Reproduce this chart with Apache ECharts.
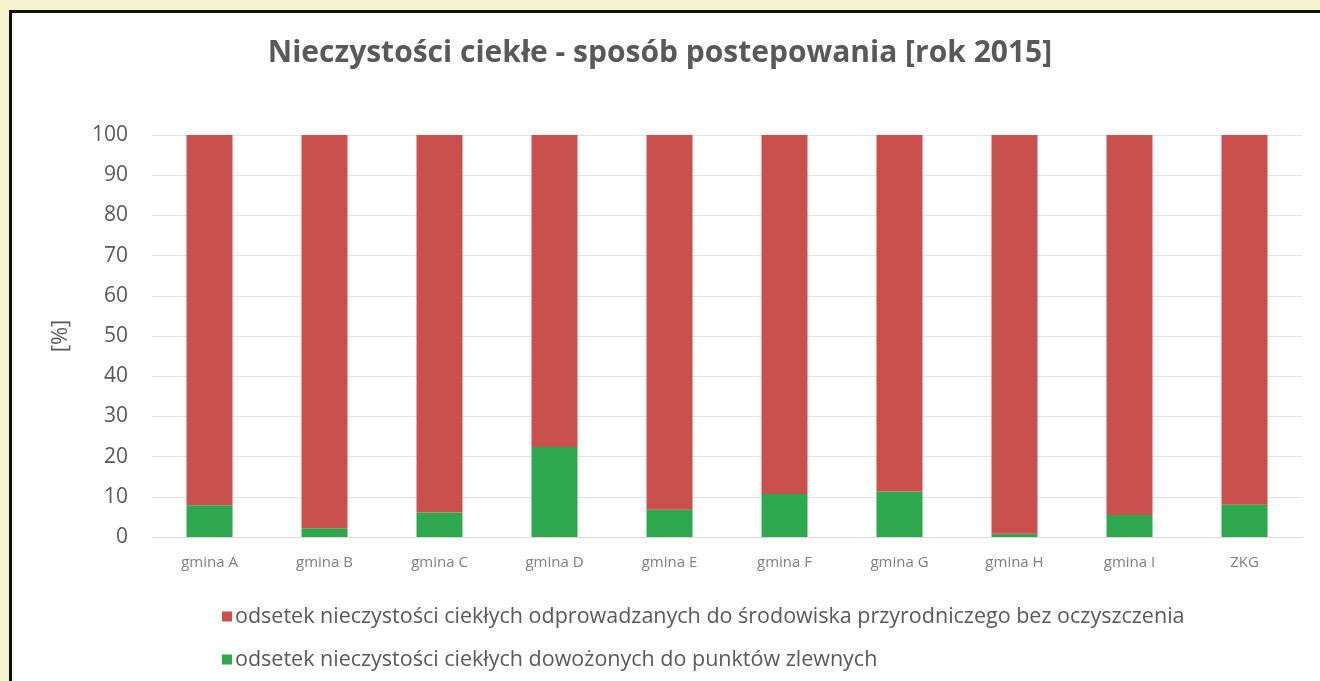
<!DOCTYPE html>
<html>
<head>
<meta charset="utf-8">
<script src="https://cdn.jsdelivr.net/npm/echarts@6/dist/echarts.min.js"></script>
<style>
html,body{margin:0;padding:0;background:#F6F4CF;width:1320px;height:681px;overflow:hidden;}
#box{position:absolute;left:9px;top:10px;width:1320px;height:700px;background:#fff;border-left:3px solid #111;border-top:3px solid #111;}
#chart{position:absolute;left:0;top:0;width:1320px;height:681px;}
</style>
</head>
<body>
<div id="box"></div>
<div id="chart"></div>
<script>
const categories = ['gmina A','gmina B','gmina C','gmina D','gmina E','gmina F','gmina G','gmina H','gmina I','ZKG'];
const dowozone = [7.9, 2.2, 6.1, 22.4, 6.8, 10.7, 11.3, 0.8, 5.5, 8.0];
const odprowadzane = [92.1, 97.8, 93.9, 77.6, 93.2, 89.3, 88.7, 99.2, 94.5, 92.0];
const yTicks = [0,10,20,30,40,50,60,70,80,90,100];
const nameRed = 'odsetek nieczystości ciekłych odprowadzanych do środowiska przyrodniczego bez oczyszczenia';
const nameGreen = 'odsetek nieczystości ciekłych dowożonych do punktów zlewnych';

const chart = echarts.init(document.getElementById('chart'));
chart.setOption({
  backgroundColor: 'transparent',
  animation: false,
  title: {
    text: 'Nieczystości ciekłe - sposób postepowania [rok 2015]',
    left: 'center', top: 33,
    textStyle: {fontFamily: 'Open Sans', fontSize: 30, fontWeight: 'bold', color: '#595959'}
  },
  grid: {left: 152, right: 18, top: 135, bottom: 144},
  legend: {
    orient: 'vertical', left: 217, top: 600,
    itemWidth: 10, itemHeight: 10, itemGap: 20, icon: 'rect',
    data: [nameRed, nameGreen],
    textStyle: {fontFamily: 'Open Sans', fontSize: 21.5, lineHeight: 23, color: '#595959', padding: [0,0,0,-2]}
  },
  xAxis: {
    type: 'category', data: categories,
    axisLine: {show: true, lineStyle: {color: '#D9D9D9'}},
    axisTick: {show: false},
    axisLabel: {fontFamily: 'Open Sans', fontSize: 15, color: '#7f7f7f', margin: 18}
  },
  yAxis: {
    type: 'value', min: yTicks[0], max: yTicks[yTicks.length-1], interval: 10,
    name: '[%]', nameLocation: 'middle', nameGap: 80, nameRotate: 90,
    nameTextStyle: {fontFamily: 'Open Sans', fontSize: 22, color: '#595959'},
    axisLine: {show: false}, axisTick: {show: false},
    axisLabel: {fontFamily: 'Open Sans', fontSize: 21, color: '#595959', margin: 24},
    splitLine: {lineStyle: {color: '#E3E3E3'}}
  },
  series: [
    {name: nameGreen, type: 'bar', stack: 's', data: dowozone, barWidth: 46, itemStyle: {color: '#2DA84E'}},
    {name: nameRed, type: 'bar', stack: 's', data: odprowadzane, barWidth: 46, itemStyle: {color: '#C9504C'}}
  ]
});
</script>
</body>
</html>
